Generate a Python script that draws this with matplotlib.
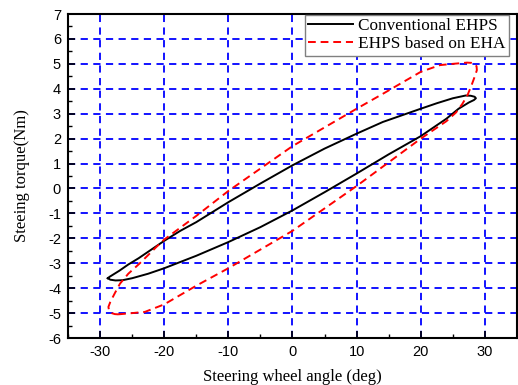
from matplotlib import use as setRenderingBackend  # isort:skip
setRenderingBackend('Agg')  # isort:skip

from matplotlib import pyplot as plt
from matplotlib.ticker import MultipleLocator

# conventional EHPS loop: lower branch left->right, then upper branch right->left
conv_angle = [
    -28.8, -28.4, -27.6, -26.5, -25.0, -22.5, -20.0, -15.0, -10.0, -5.0, 0.0,
    5.0, 10.0, 15.0, 20.0, 24.0, 25.9, 27.5, 28.3, 28.6,
    28.4, 27.8, 27.0, 25.0, 22.5, 20.0, 14.1, 10.0, 5.0, 0.0, -5.0,
    -10.0, -15.0, -17.5, -20.0, -24.0, -25.6, -27.0, -28.0, -28.5, -28.8,
]
conv_torque = [
    -3.60, -3.66, -3.69, -3.68, -3.60, -3.42, -3.20, -2.70, -2.15, -1.55, -0.88,
    -0.15, 0.60, 1.37, 2.10, 2.80, 3.20, 3.45, 3.55, 3.62,
    3.68, 3.72, 3.73, 3.62, 3.42, 3.20, 2.67, 2.20, 1.60, 0.93, 0.20,
    -0.55, -1.35, -1.70, -2.10, -2.80, -3.05, -3.30, -3.46, -3.54, -3.60,
]

# EHPS based on EHA loop
eha_angle = [
    -27.2, -25.0, -23.0, -20.0, -15.0, -10.0, -5.0, 0.0, 5.0, 10.0,
    15.0, 20.0, 22.0, 24.0, 25.5, 26.5, 27.3, 28.0, 28.5, 28.75, 28.7, 28.4, 27.9,
    27.2, 25.0, 23.0, 20.0, 14.1, 10.0, 5.0, 0.0, -5.0, -10.0,
    -15.0, -20.0, -21.2, -23.8, -25.6, -26.9, -27.7, -28.4, -28.7, -28.6, -28.2, -27.7, -27.2,
]
eha_torque = [
    -5.05, -5.00, -4.95, -4.65, -3.90, -3.20, -2.45, -1.70, -0.80, 0.10,
    1.05, 2.00, 2.35, 2.70, 3.05, 3.40, 3.75, 4.20, 4.55, 4.75, 4.90, 5.00, 5.04,
    5.05, 5.00, 4.95, 4.68, 3.80, 3.20, 2.45, 1.70, 0.80, -0.10,
    -1.10, -2.05, -2.34, -3.00, -3.42, -3.82, -4.20, -4.55, -4.75, -4.90, -5.00, -5.04, -5.05,
]

x_ticks = [-30, -20, -10, 0, 10, 20, 30]
y_ticks = list(range(-6, 8))

serif = ['Liberation Serif', 'DejaVu Serif']
sans = ['Liberation Sans', 'DejaVu Sans']


def main():
    plt.rcParams['axes.unicode_minus'] = False
    fig = plt.figure(figsize=(5.18, 3.85), dpi=100)
    ax = fig.add_axes([0.1313, 0.122, 0.8667, 0.8416])

    ax.set_xlim(-35, 35)
    ax.set_ylim(-6, 7)
    ax.set_xticks(x_ticks)
    ax.set_yticks(y_ticks)
    ax.xaxis.set_minor_locator(MultipleLocator(5))
    ax.yaxis.set_minor_locator(MultipleLocator(0.5))
    ax.tick_params(which='both', direction='in', top=False, right=False)
    ax.tick_params(which='major', length=5, width=1.2, pad=5)
    ax.tick_params(which='minor', length=3, width=1.0)
    for lab in ax.get_xticklabels() + ax.get_yticklabels():
        lab.set_family(sans)
        lab.set_fontsize(10.5)

    ax.grid(True, which='major', color='#0000ff', linestyle=(0, (4, 3)), linewidth=1.3)
    ax.set_axisbelow(True)
    for sp in ax.spines.values():
        sp.set_linewidth(1.5)

    ax.plot(conv_angle, conv_torque, color='black', linewidth=1.4, label='Conventional EHPS')
    ax.plot(eha_angle, eha_torque, color='red', linewidth=1.4, linestyle=(0, (4, 2.5)),
            label='EHPS based on EHA')

    ax.set_xlabel('Steering wheel angle (deg)', family=serif, fontsize=12, labelpad=7)
    ax.set_ylabel('Steeing torque(Nm)', family=serif, fontsize=12, labelpad=13)

    leg = ax.legend(loc='upper right', bbox_to_anchor=(0.982, 0.998), prop={'family': serif, 'size': 12.4},
                    fancybox=False, framealpha=1, edgecolor='gray', handlelength=2.6, borderpad=0.2,
                    labelspacing=0.12, borderaxespad=0.0, handletextpad=0.3)
    leg.get_frame().set_linewidth(1.0)

    fig.savefig('out.png', dpi=100)
    plt.close(fig)


if __name__ == '__main__':
    main()
